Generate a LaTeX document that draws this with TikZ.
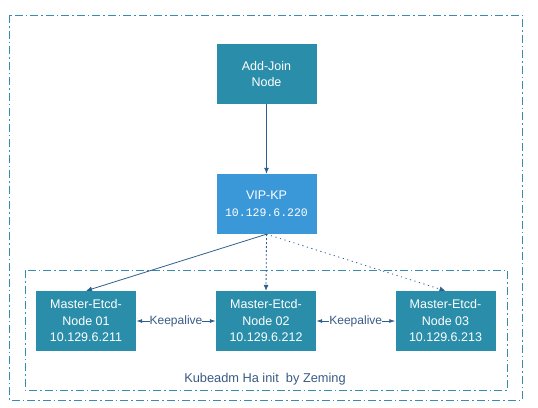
\documentclass[tikz,border=0pt]{standalone}
\usepackage{fontspec}
\setmainfont{Liberation Sans}
\newfontfamily\ipfont{Liberation Mono}
\usetikzlibrary{arrows.meta}
\definecolor{boxteal}{HTML}{2A8EAB}
\definecolor{vipblue}{HTML}{3A98D8}
\definecolor{framecol}{HTML}{3A8CAD}
\definecolor{linecol}{HTML}{2F5F8C}
\definecolor{labelcol}{HTML}{3A5A85}

\begin{document}
\begin{tikzpicture}[x=1pt,y=-1pt,>=Latex,
  hostbox/.style={draw=none,fill=boxteal,text=white,minimum width=100pt,minimum height=60pt,align=center,font=\fontsize{12.5}{16.5}\selectfont,inner sep=2pt},
  vipbox/.style={hostbox,fill=vipblue},
  frame/.style={draw=framecol,line width=0.9pt,dash pattern=on 8pt off 3pt on 1.5pt off 3pt},
  link/.style={draw=linecol,line width=0.8pt,-{Latex[length=6pt,width=5pt]}},
  keep/.style={draw=linecol,line width=0.8pt,{Latex[length=6pt,width=4pt]}-{Latex[length=6pt,width=4pt]}},
  keeplabel/.style={fill=white,text=labelcol,inner sep=0pt,font=\fontsize{12}{14}\selectfont}]
\useasboundingbox (0,0) rectangle (538,407);
% outer and inner frames
\draw[frame] (9,15) rectangle (522,400);
\draw[frame] (25,270) rectangle (507,390);
% nodes
\node[hostbox] (join) at (266.5,74) {Add-Join\\Node};
\node[vipbox] (vip) at (266.5,204) {VIP-KP\\{\ipfont\fontsize{11.5}{14}\selectfont 10.129.6.220}};
\node[hostbox] (m1) at (86,321) {Master-Etcd-\\Node 01\\10.129.6.211};
\node[hostbox] (m2) at (266,321) {Master-Etcd-\\Node 02\\10.129.6.212};
\node[hostbox] (m3) at (445.5,321) {Master-Etcd-\\Node 03\\10.129.6.213};
\node[text=labelcol,font=\fontsize{12.8}{15}\selectfont] (title) at (265,379) {Kubeadm Ha init\ \ by Zeming};
% links
\draw[link] (join.south)--(vip.north);
\draw[link] (vip.south)--(m1.north);
\draw[link,dash pattern=on 2pt off 2pt] (vip.south)--(m2.north);
\draw[link,dash pattern=on 1.2pt off 3.5pt] (vip.south)--(m3.north);
\draw[keep] (m1.east)--node[keeplabel]{Keepalive}(m2.west);
\draw[keep] (m2.east)--node[keeplabel]{Keepalive}(m3.west);
\end{tikzpicture}
\end{document}
